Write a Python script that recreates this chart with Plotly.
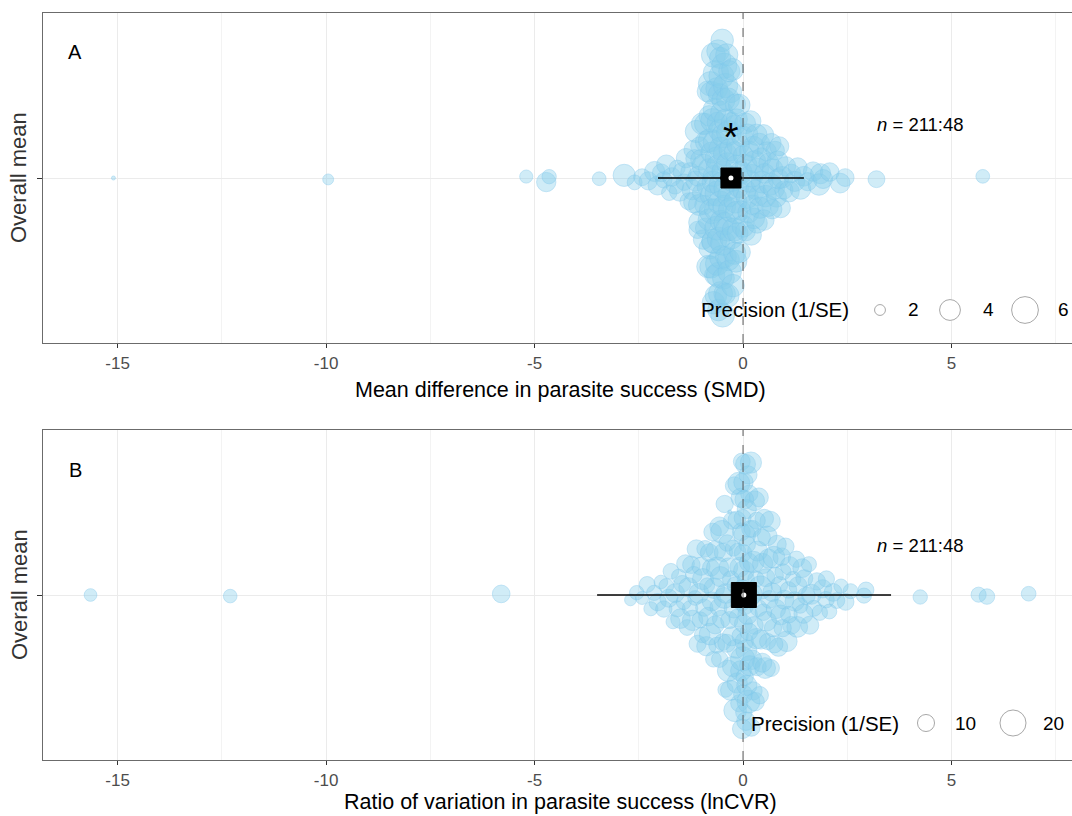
import numpy as np
import plotly.graph_objects as go

# ---------------- DATA ----------------
# Panel A: standardised mean difference (SMD) effect sizes and their precision (1/SE)
smd_x = [
    -15.1, -9.95, -5.2, -4.72, -4.65, -3.45, -2.85, -2.6, -2.42, -2.27, -2.12, -2.05,
    -1.96, -1.9, -1.84, -1.77, -1.71, -1.63, -1.58, -1.52, -1.46, -1.41, -1.37, -1.31, -1.27, -1.22,
    -1.19, -1.17, -1.16, -1.13, -1.12, -1.09, -1.08, -1.06, -1.04, -1.03, -1.01, -0.99, -0.98,
    -0.96, -0.94, -0.93, -0.91, -0.9, -0.88, -0.87, -0.85, -0.84, -0.83, -0.82, -0.81,
    -0.8, -0.79, -0.78, -0.78, -0.77, -0.76, -0.75, -0.75, -0.74, -0.73, -0.72, -0.71,
    -0.71, -0.7, -0.69, -0.68, -0.68, -0.67, -0.66, -0.65, -0.65, -0.64, -0.63, -0.63,
    -0.62, -0.61, -0.61, -0.6, -0.59, -0.59, -0.58, -0.57, -0.57, -0.56, -0.55, -0.55,
    -0.54, -0.54, -0.53, -0.52, -0.52, -0.51, -0.5, -0.5, -0.49, -0.49, -0.48, -0.47,
    -0.47, -0.46, -0.45, -0.45, -0.44, -0.43, -0.43, -0.42, -0.41, -0.41, -0.4, -0.39,
    -0.38, -0.38, -0.37, -0.36, -0.35, -0.34, -0.34, -0.33, -0.32, -0.31, -0.3, -0.29,
    -0.28, -0.27, -0.26, -0.25, -0.24, -0.23, -0.22, -0.21, -0.2, -0.19, -0.18, -0.18,
    -0.17, -0.16, -0.16, -0.15,
    -0.13, -0.12, -0.1, -0.09, -0.07, -0.05, -0.04, -0.02, 0.0, 0.01, 0.03, 0.05, 0.06, 0.08,
    0.1, 0.11, 0.13, 0.15, 0.16, 0.18, 0.2, 0.21, 0.23, 0.25, 0.27, 0.28, 0.3, 0.32, 0.34,
    0.35, 0.37, 0.39,
    0.41, 0.44, 0.46, 0.49, 0.52, 0.54, 0.57, 0.6, 0.62, 0.65, 0.68, 0.71, 0.74, 0.77, 0.8,
    0.83, 0.87, 0.9, 0.94, 0.98, 0.5, 0.7, 0.85,
    1.03, 1.1, 1.16, 1.24, 1.31, 1.38, 1.46,
    1.55, 1.68, 1.82, 1.86, 1.92, 2.08, 2.33, 2.45, 3.2, 5.75,
]
smd_prec = [
    1.6, 2.0, 2.3, 3.6, 2.5, 2.4, 4.4, 2.6, 3.0, 3.3, 3.8, 3.5,
    3.2, 2.9, 3.6, 2.7, 3.4, 3.1, 2.8, 3.9, 3.3, 2.9, 3.6, 3.0, 3.4, 3.8,
    3.5, 4.1, 3.2, 3.8, 4.4, 3.1, 3.7, 4.0, 3.3, 4.6, 3.9, 3.4, 4.2,
    3.6, 4.8, 3.5, 4.1, 3.8, 4.3, 3.6, 4.0, 4.5, 3.7, 4.2, 3.9,
    4.2, 4.8, 3.9, 5.1, 4.4, 4.0, 5.3, 4.6, 4.1, 4.9, 4.3, 5.0,
    4.5, 4.1, 5.2, 4.7, 3.8, 4.9, 4.4, 5.5, 4.2, 4.6, 5.0, 4.3,
    4.8, 4.0, 5.4, 4.5, 4.2, 5.1, 4.7, 4.3, 5.6, 4.4, 4.9, 4.1,
    5.0, 4.6, 4.2, 5.3, 4.8, 4.4, 5.7, 4.5, 4.9, 4.1, 5.2, 4.7,
    4.3, 5.0, 4.6, 5.4, 4.2, 4.8, 4.5, 5.1, 4.0, 4.7, 5.3, 4.4,
    4.9, 4.2, 5.0, 4.6, 4.3, 5.2, 4.5, 4.1, 4.8, 4.4, 5.0, 4.2,
    4.6, 4.0, 4.8, 4.3, 4.5, 4.1, 4.7, 3.9, 4.4, 4.2, 4.6, 3.8,
    4.3, 4.0, 4.5, 4.1,
    4.0, 4.4, 3.7, 4.2, 3.9, 4.5, 3.6, 4.1, 4.3, 3.8, 4.6, 4.0, 3.7, 4.2,
    4.4, 3.9, 4.1, 3.6, 4.3, 4.0, 3.8, 4.5, 3.7, 4.2, 3.9, 4.4, 3.6, 4.1, 3.8,
    4.3, 3.7, 4.0,
    4.1, 3.6, 4.3, 3.9, 3.7, 4.2, 3.5, 4.0, 3.8, 4.4, 3.6, 3.9, 4.1, 3.4, 3.8,
    4.0, 3.5, 3.7, 4.2, 3.3, 3.9, 3.6, 3.8,
    3.6, 4.0, 3.4, 3.8, 3.5, 3.9, 3.7,
    3.3, 3.6, 4.2, 3.8, 3.5, 3.4, 3.7, 3.2, 3.0, 2.4,
]
smd_mean = -0.29
smd_ci = [-0.55, -0.03]
smd_pi = [-2.04, 1.46]

# Panel B: log coefficient of variation ratio (lnCVR) and precision (1/SE)
lncvr_x = [
    -15.65, -12.3, -5.8,
    -2.7, -2.55, -2.42, -2.3, -2.21, -2.13, -2.05, -1.97, -1.9, -1.84,
    -1.78, -1.73, -1.68, -1.63, -1.58, -1.54, -1.5, -1.46, -1.42, -1.38,
    -1.34, -1.31, -1.27, -1.24, -1.21, -1.18, -1.15, -1.12, -1.09, -1.06,
    -1.03, -1.01, -0.98, -0.96, -0.93, -0.91, -0.88, -0.86, -0.84, -0.81,
    -0.79, -0.77, -0.75, -0.73, -0.71, -0.69, -0.67, -0.65, -0.63, -0.61,
    -0.59, -0.57, -0.56, -0.54, -0.52, -0.5, -0.49, -0.47, -0.45, -0.44,
    -0.42, -0.41, -0.39, -0.38, -0.36, -0.35, -0.33, -0.32, -0.3, -0.29,
    -0.27, -0.26, -0.25, -0.23, -0.22, -0.21, -0.19, -0.18, -0.17, -0.15,
    -0.14, -0.13, -0.12, -0.1, -0.09, -0.08, -0.07, -0.06, -0.05, -0.04,
    -0.03, -0.03, -0.02, -0.02, -0.01, -0.01, 0.0, 0.0,
    0.01, 0.01, 0.02, 0.02, 0.03, 0.04, 0.04, 0.05, 0.06, 0.07,
    0.07, 0.08, 0.09, 0.1, 0.11, 0.12, 0.13, 0.14, 0.15, 0.16,
    0.17, 0.18, 0.19, 0.2, 0.22, 0.23, 0.24, 0.25, 0.27, 0.28,
    0.29, 0.31, 0.32, 0.34, 0.35, 0.37, 0.38, 0.4, 0.42, 0.43,
    0.45, 0.47, 0.49, 0.51, 0.53, 0.55, 0.57, 0.59, 0.61, 0.63,
    0.65, 0.67, 0.7, 0.72, 0.74, 0.77, 0.79, 0.82, 0.85, 0.87,
    0.9, 0.93, 0.96, 0.99, 1.02, 1.05, 1.09, 1.12, 1.16, 1.2,
    1.24, 1.28, 1.32, 1.37, 1.42, 1.47, 1.52, 1.58, 1.64, 1.7,
    1.77, 1.84, 1.91, 1.99, 2.07, 2.16, 2.25, 2.35, 2.46, 2.58,
    1.3, 1.45, 0.95, 2.0,
    0.03, 0.09, 0.14, 0.21, 0.33, 0.46, 0.58, 0.75, 1.1, 1.6,
    2.9, 2.95, 4.25, 5.65, 5.85, 6.85,
]
lncvr_prec = [
    7.0, 7.5, 10.5,
    6.5, 8.0, 7.2, 9.1, 7.8, 8.6, 10.2, 7.5, 9.4, 8.3,
    10.8, 8.9, 7.7, 11.5, 9.2, 8.1, 12.3, 9.8, 8.5, 10.6,
    9.0, 11.9, 8.7, 10.3, 13.1, 9.5, 8.2, 11.2, 10.0, 12.6,
    9.3, 10.9, 8.8, 13.8, 10.1, 9.6, 12.0, 8.4, 11.4, 10.5,
    14.5, 9.9, 11.7, 10.4, 8.9, 13.3, 10.7, 12.2, 9.1, 15.2,
    10.0, 11.6, 9.4, 12.8, 10.6, 16.0, 9.7, 11.1, 13.6, 10.2,
    8.6, 12.4, 10.8, 9.5, 14.1, 11.3, 10.0, 4.6, 12.7, 9.8,
    11.8, 10.3, 13.0, 9.2, 12.1, 10.7, 15.5, 9.9, 11.5, 10.4,
    12.9, 9.6, 11.0, 14.8, 10.1, 12.5, 9.3, 11.7, 13.4, 10.6,
    11.2, 9.8, 12.2, 10.5, 17.5, 9.9, 11.6, 10.3,
    10.7, 12.0, 9.5, 13.2, 11.1, 10.2, 14.4, 9.8, 12.6, 11.3,
    10.0, 13.7, 11.9, 9.6, 12.3, 10.8, 15.8, 11.4, 10.1, 12.8,
    9.7, 11.5, 13.9, 10.4, 12.1, 9.9, 11.0, 14.2, 10.6, 12.4,
    11.2, 9.4, 13.1, 10.9, 12.7, 9.8, 11.6, 10.3, 16.5, 11.8,
    10.1, 12.9, 9.6, 11.3, 13.5, 10.7, 12.2, 9.3, 11.9, 10.5,
    13.0, 9.9, 11.4, 10.2, 14.6, 9.5, 12.0, 10.8, 11.1, 9.7,
    12.5, 10.4, 9.2, 11.7, 10.0, 13.3, 9.6, 11.2, 10.6, 8.8,
    12.1, 9.4, 10.9, 8.7, 11.5, 9.9, 10.3, 8.5, 12.7, 9.1,
    10.2, 8.8, 11.0, 9.5, 8.3, 10.6, 9.0, 7.9, 9.7, 8.4,
    13.5, 11.8, 10.2, 9.3,
    11.5, 12.8, 10.4, 13.6, 9.9, 11.7, 12.3, 10.1, 9.6, 10.8,
    8.5, 9.0, 8.0, 8.5, 8.8, 8.2,
]
lncvr_mean = 0.02
lncvr_ci = [-0.22, 0.26]
lncvr_pi = [-3.5, 3.55]

n_label = "<i>n</i> = 211:48"
x_ticks = [-15, -10, -5, 0, 5]
x_minor = [-12.5, -7.5, -2.5, 2.5, 7.5]
legend_A = [2, 4, 6]
legend_B = [10, 20]
title_A = "Mean difference in parasite success (SMD)"
title_B = "Ratio of variation in parasite success (lnCVR)"

_nA = min(len(smd_x), len(smd_prec))
_nB = min(len(lncvr_x), len(lncvr_prec))

# ---------------- LAYOUT HELPERS ----------------
W, H = 1072, 816
ML, MR, MT, MB = 43, 0, 13, 56
PLOT_H = H - MT - MB
A_TOP, A_BOT = 13, 343
B_TOP, B_BOT = 430, 760
X_RANGE = [-16.79, 7.89]
FONT = "Liberation Sans, Arial, sans-serif"


def px_x(px):
    return (px - ML) / (W - ML - MR)


def px_y(py):
    return (H - MB - py) / PLOT_H


def vdc(n, base=2):
    out = []
    for i in range(1, n + 1):
        v, denom, k = 0.0, 1.0, i
        while k:
            denom *= base
            k, r = divmod(k, base)
            v += r / denom
        out.append(v)
    return np.array(out)


def quasirandom(x, width, adjust=1.0):
    x = np.asarray(x, float)
    n = len(x)
    sd = x.std(ddof=1)
    q75, q25 = np.percentile(x, [75, 25])
    bw = 0.9 * min(sd, (q75 - q25) / 1.34) * n ** -0.2 * adjust
    grid = np.linspace(x.min() - 3 * bw, x.max() + 3 * bw, 2048)
    dg = np.exp(-0.5 * ((grid[:, None] - x[None, :]) / bw) ** 2).sum(1)
    dens = np.interp(x, grid, dg) / dg.max()
    ranks = np.argsort(np.argsort(x, kind="stable"), kind="stable")
    off = vdc(n)[ranks]
    return (off - 0.5) * 2 * width * dens


def size_scale(p, lims, rng):
    p = np.asarray(p, float)
    t = np.clip((p - lims[0]) / (lims[1] - lims[0]), 0, None)
    return rng[0] + (rng[1] - rng[0]) * np.sqrt(t)


SIZE_A = dict(lims=(1.6, 5.7), rng=(4, 26))
SIZE_B = dict(lims=(4.6, 26.0), rng=(4, 30))

fig = go.Figure()

PT_FILL = "rgba(135,206,235,0.55)"
PT_LINE = "rgba(125,198,235,0.6)"

panels = [
    dict(x=smd_x[:_nA], p=smd_prec[:_nA], mean=smd_mean, ci=smd_ci, pi=smd_pi, xa="x", ya="y",
         size=SIZE_A, sq=20, adjust=0.65, width=0.88),
    dict(x=lncvr_x[:_nB], p=lncvr_prec[:_nB], mean=lncvr_mean, ci=lncvr_ci, pi=lncvr_pi,
         xa="x2", ya="y2", size=SIZE_B, sq=25, adjust=0.9, width=0.86),
]

for pn in panels:
    yoff = quasirandom(pn["x"], pn["width"], pn["adjust"])
    sizes = size_scale(pn["p"], **pn["size"])
    fig.add_trace(go.Scatter(
        x=pn["x"], y=yoff, mode="markers", xaxis=pn["xa"], yaxis=pn["ya"],
        marker=dict(size=sizes, color=PT_FILL, line=dict(color=PT_LINE, width=1)),
        showlegend=False, hoverinfo="skip"))
    fig.add_trace(go.Scatter(
        x=pn["pi"], y=[0, 0], mode="lines", xaxis=pn["xa"], yaxis=pn["ya"],
        line=dict(color="black", width=1.4), showlegend=False, hoverinfo="skip"))
    fig.add_trace(go.Scatter(
        x=pn["ci"], y=[0, 0], mode="lines", xaxis=pn["xa"], yaxis=pn["ya"],
        line=dict(color="black", width=3), showlegend=False, hoverinfo="skip"))
    fig.add_trace(go.Scatter(
        x=[pn["mean"]], y=[0], mode="markers", xaxis=pn["xa"], yaxis=pn["ya"],
        marker=dict(symbol="square", size=pn["sq"], color="black",
                    line=dict(color="black", width=1)),
        showlegend=False, hoverinfo="skip"))
    fig.add_trace(go.Scatter(
        x=[pn["mean"]], y=[0], mode="markers", xaxis=pn["xa"], yaxis=pn["ya"],
        marker=dict(symbol="circle", size=5, color="white"),
        showlegend=False, hoverinfo="skip"))

axis_common = dict(
    range=X_RANGE, tickmode="array", tickvals=x_ticks,
    ticktext=[str(v) for v in x_ticks],
    ticks="outside", ticklen=4, tickcolor="#333333", tickwidth=1,
    tickfont=dict(family=FONT, size=17, color="#4d4d4d"),
    showgrid=True, gridcolor="#ebebeb", gridwidth=1.2,
    minor=dict(tickvals=x_minor, showgrid=True, gridcolor="#f3f3f3", gridwidth=0.8, ticks=""),
    zeroline=False, showline=True, linecolor="#6b6b6b", linewidth=1.2, mirror=True,
)
yaxis_common = dict(
    range=[-1, 1], tickmode="array", tickvals=[0], ticktext=[""],
    ticks="outside", ticklen=5, tickcolor="#333333", tickwidth=1,
    showgrid=True, gridcolor="#ebebeb", gridwidth=1.2,
    zeroline=False, showline=True, linecolor="#6b6b6b", linewidth=1.2, mirror=False,
    showticklabels=False,
)

fig.update_layout(
    width=W, height=H,
    margin=dict(l=ML, r=MR, t=MT, b=MB, pad=0),
    paper_bgcolor="white", plot_bgcolor="white",
    font=dict(family=FONT, color="black"),
    xaxis=dict(axis_common, domain=[0, 1], anchor="y"),
    yaxis=dict(yaxis_common, domain=[px_y(A_BOT), px_y(A_TOP)], anchor="x"),
    xaxis2=dict(axis_common, domain=[0, 1], anchor="y2"),
    yaxis2=dict(yaxis_common, domain=[px_y(B_BOT), px_y(B_TOP)], anchor="x2"),
    showlegend=False,
)

for xr, yr in [("x", "y domain"), ("x2", "y2 domain")]:
    fig.add_shape(type="line", xref=xr, yref=yr, x0=0, x1=0, y0=0, y1=1,
                  line=dict(color="#5a5a5a", width=1, dash="dash"), layer="above")

ann = []


def text_at(text, px, py, size, xanchor="center", color="black", angle=0):
    ann.append(dict(text=text, x=px_x(px), y=px_y(py), xref="paper", yref="paper",
                    xanchor=xanchor, yanchor="middle", showarrow=False, textangle=angle,
                    font=dict(size=size, family=FONT, color=color)))


text_at("A", 75, 52, 20)
text_at("B", 75, 470, 20)
for cy in [(A_TOP + A_BOT) / 2, (B_TOP + B_BOT) / 2]:
    text_at("Overall mean", 19, cy, 22, color="#333333", angle=-90)
text_at(title_A, 560, 390, 21.5)
text_at(title_B, 560, 802, 21.5)
ann.append(dict(text="*", x=smd_mean, y=0.25, xref="x", yref="y", showarrow=False,
                xanchor="center", yanchor="middle",
                font=dict(size=40, family=FONT, color="black")))
text_at(n_label, 875, 125, 18.5, xanchor="left")
text_at(n_label, 875, 545, 18.5, xanchor="left")


def size_legend(vals, size_cfg, text_right, cy, circ_px, lab_px):
    text_at("Precision (1/SE)", text_right, cy, 20.5, xanchor="right")
    ds = size_scale(vals, **size_cfg)
    for v, d, cx, lx in zip(vals, ds, circ_px, lab_px):
        r = d / 2
        fig.add_shape(type="circle", xref="paper", yref="paper",
                      xsizemode="pixel", ysizemode="pixel",
                      xanchor=px_x(cx), yanchor=px_y(cy),
                      x0=-r, x1=r, y0=-r, y1=r,
                      line=dict(color="#a8a8a8", width=1), fillcolor="white", layer="above")
        text_at(str(v), lx, cy, 19)


size_legend(legend_A, SIZE_A, 851, 310, [880, 950, 1025], [913, 988, 1063])
size_legend(legend_B, SIZE_B, 901, 723, [926, 1013], [965, 1053])

fig.update_layout(annotations=ann)

fig.write_html("out.html")
